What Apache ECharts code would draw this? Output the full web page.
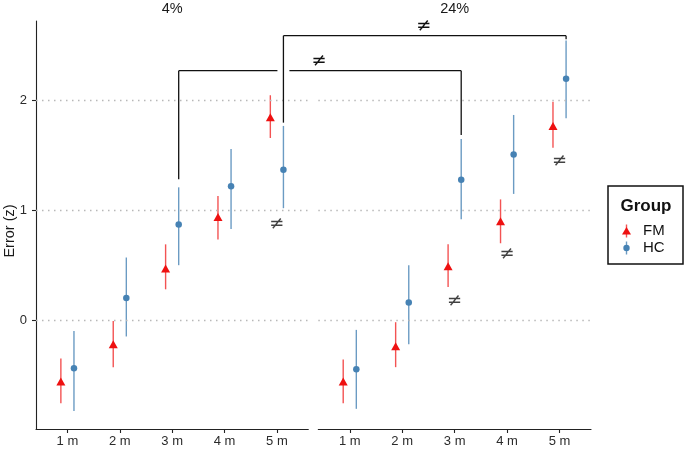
<!DOCTYPE html>
<html><head><meta charset="utf-8">
<script src="https://cdn.jsdelivr.net/npm/echarts@6/dist/echarts.min.js"></script>
<style>html,body{margin:0;padding:0;background:#fff}#c{width:685px;height:449px}</style>
</head><body><div id="c"></div>
<script>
// ---------- data ----------
const categories = [1, 2, 3, 4, 5];
const tickLabels = ['1 m', '2 m', '3 m', '4 m', '5 m'];
const yTicks = [0, 1, 2];
const panels = ['4%', '24%'];
const groups = ['FM', 'HC'];

const fm4    = [-0.56, -0.22, 0.47, 0.94, 1.85];
const fm4Lo  = [-0.76, -0.43, 0.28, 0.735, 1.66];
const fm4Hi  = [-0.35, -0.01, 0.69, 1.13, 2.05];
const hc4    = [-0.44, 0.20, 0.87, 1.22, 1.37];
const hc4Lo  = [-0.83, -0.15, 0.50, 0.83, 1.02];
const hc4Hi  = [-0.10, 0.57, 1.21, 1.56, 1.77];

const fm24   = [-0.56, -0.24, 0.49, 0.90, 1.77];
const fm24Lo = [-0.76, -0.43, 0.30, 0.70, 1.57];
const fm24Hi = [-0.36, -0.02, 0.69, 1.10, 1.99];
const hc24   = [-0.45, 0.16, 1.28, 1.51, 2.20];
const hc24Lo = [-0.81, -0.22, 0.92, 1.15, 1.84];
const hc24Hi = [-0.09, 0.50, 1.65, 1.87, 2.55];

// significance marks "≠" placed under points: [panel, category, y]
const neqPanel = [0, 1, 1, 1];
const neqCat   = [5, 3, 4, 5];
const neqY     = [0.875, 0.167, 0.60, 1.45];

// brackets between panels: category, top y, left-bottom y, right-bottom y
const brCat    = [3, 5];
const brTop    = [2.274, 2.593];
const brLeftLo = [1.283, 1.80];
const brRightLo= [1.687, 2.56];

// ---------- styling ----------
const FM_COL = '#EE1111', FM_LINE = 'rgba(238,17,17,0.72)';
const HC_COL = '#4682B4', HC_LINE = 'rgba(70,130,180,0.8)';
const FONT = '"Liberation Sans", Arial, sans-serif';
const NEQ_FONT = '18px "DejaVu Sans", sans-serif';
const DODGE = 0.125;
const Y_MIN = -0.994, Y_MAX = 2.727;

const chart = echarts.init(document.getElementById('c'), null, {renderer: 'canvas'});

const grids = [
  {left: 36, top: 21, width: 272.3, height: 408},
  {left: 318.3, top: 21, width: 272.7, height: 408}
];

function xAxisCfg(i) {
  return {
    type: 'value', gridIndex: i, min: 0.4, max: 5.6,
    axisLine: {show: true, onZero: false, lineStyle: {color: '#222', width: 1.1}},
    axisTick: {show: true, customValues: categories, length: 4, lineStyle: {color: '#222', width: 1.1}},
    axisLabel: {show: true, customValues: categories, margin: 6,
      formatter: v => tickLabels[categories.indexOf(Math.round(v))] || '',
      color: '#2b2b2b', fontSize: 13, fontFamily: FONT},
    splitLine: {show: false}
  };
}
function yAxisCfg(i) {
  return {
    type: 'value', gridIndex: i, min: Y_MIN, max: Y_MAX,
    axisLine: {show: i === 0, onZero: false, lineStyle: {color: '#222', width: 1.1}},
    axisTick: {show: i === 0, customValues: yTicks, length: 4, lineStyle: {color: '#222', width: 1.1}},
    axisLabel: {show: i === 0, customValues: yTicks, margin: 9, color: '#2b2b2b', fontSize: 13, fontFamily: FONT},
    splitLine: {show: false}
  };
}

function errSeries(i, lo, hi, off, color) {
  return {
    type: 'custom', xAxisIndex: i, yAxisIndex: i, silent: true, z: 2,
    data: categories.map((c, k) => [c + off, lo[k], hi[k]]),
    renderItem: (params, api) => {
      const a = api.coord([api.value(0), api.value(1)]);
      const b = api.coord([api.value(0), api.value(2)]);
      return {type: 'line', shape: {x1: a[0], y1: a[1], x2: b[0], y2: b[1]},
        style: {stroke: color, lineWidth: 1.4}};
    }
  };
}
function ptSeries(i, vals, off, symbol, size, color) {
  return {
    type: 'scatter', xAxisIndex: i, yAxisIndex: i, symbol: symbol, symbolSize: size, z: 3,
    itemStyle: {color: color, opacity: 1},
    data: categories.map((c, k) => [c + off, vals[k]])
  };
}
function gridLines(i) {
  return {
    type: 'line', xAxisIndex: i, yAxisIndex: i, data: [], silent: true, z: 1,
    markLine: {symbol: 'none', silent: true, label: {show: false},
      lineStyle: {color: '#b8b8b8', type: [1.5, 4.5], width: 1.4},
      data: yTicks.map(v => ({yAxis: v}))}
  };
}
function neqSeries(i) {
  const d = [];
  neqPanel.forEach((p, k) => { if (p === i) d.push([neqCat[k], neqY[k]]); });
  return {
    type: 'scatter', xAxisIndex: i, yAxisIndex: i, symbolSize: 0, z: 4, data: d,
    label: {show: true, position: 'inside', formatter: '≠', color: '#111', fontSize: 18, fontFamily: '"DejaVu Sans", sans-serif'}
  };
}

const series = [
  gridLines(0), gridLines(1),
  errSeries(0, fm4Lo, fm4Hi, -DODGE, FM_LINE),
  errSeries(0, hc4Lo, hc4Hi, DODGE, HC_LINE),
  errSeries(1, fm24Lo, fm24Hi, -DODGE, FM_LINE),
  errSeries(1, hc24Lo, hc24Hi, DODGE, HC_LINE),
  ptSeries(0, fm4, -DODGE, 'triangle', [9, 8], FM_COL),
  ptSeries(0, hc4, DODGE, 'circle', 6.5, HC_COL),
  ptSeries(1, fm24, -DODGE, 'triangle', [9, 8], FM_COL),
  ptSeries(1, hc24, DODGE, 'circle', 6.5, HC_COL),
  neqSeries(0), neqSeries(1)
];

chart.setOption({
  animation: false,
  backgroundColor: '#fff',
  grid: grids,
  xAxis: [xAxisCfg(0), xAxisCfg(1)],
  yAxis: [yAxisCfg(0), yAxisCfg(1)],
  series: series
});

// ---------- annotations computed from axes ----------
const g = [];
// panel titles
panels.forEach((t, i) => {
  const l = chart.convertToPixel({gridIndex: i}, [0.4, Y_MAX]);
  const r = chart.convertToPixel({gridIndex: i}, [5.6, Y_MAX]);
  g.push({type: 'text', x: (l[0] + r[0]) / 2, y: 9, style: {text: t, fill: '#1a1a1a',
    font: '14.5px ' + FONT, textAlign: 'center', textVerticalAlign: 'middle'}});
});
// y axis title
{
  const a = chart.convertToPixel({gridIndex: 0}, [0.4, Y_MIN]);
  const b = chart.convertToPixel({gridIndex: 0}, [0.4, Y_MAX]);
  g.push({type: 'text', x: 10, y: (a[1] + b[1]) / 2 + 6, rotation: Math.PI / 2,
    style: {text: 'Error (z)', fill: '#1a1a1a', font: '14.5px ' + FONT, textAlign: 'center', textVerticalAlign: 'middle'}});
}
// brackets
const LS = {stroke: '#111', lineWidth: 1.3};
const outerL = chart.convertToPixel({gridIndex: 0}, [brCat[1] + DODGE, brTop[1]]);
brCat.forEach((c, k) => {
  const L0 = chart.convertToPixel({gridIndex: 0}, [c + DODGE, brTop[k]]);
  const L1 = chart.convertToPixel({gridIndex: 0}, [c + DODGE, brLeftLo[k]]);
  const R0 = chart.convertToPixel({gridIndex: 1}, [c + DODGE, brTop[k]]);
  const R1 = chart.convertToPixel({gridIndex: 1}, [c + DODGE, brRightLo[k]]);
  g.push({type: 'polyline', z: 10, shape: {points: [[L1[0], L1[1]], [L0[0], L0[1]]]}, style: LS});
  g.push({type: 'polyline', z: 10, shape: {points: [[R0[0], R0[1]], [R1[0], R1[1]]]}, style: LS});
  if (k === 0) {
    // gap where outer bracket's vertical crosses
    g.push({type: 'line', z: 10, shape: {x1: L0[0], y1: L0[1], x2: outerL[0] - 6, y2: L0[1]}, style: LS});
    g.push({type: 'line', z: 10, shape: {x1: outerL[0] + 6, y1: L0[1], x2: R0[0], y2: R0[1]}, style: LS});
  } else {
    g.push({type: 'line', z: 10, shape: {x1: L0[0], y1: L0[1], x2: R0[0], y2: R0[1]}, style: LS});
  }
  g.push({type: 'text', z: 10, x: (L0[0] + R0[0]) / 2 - 1, y: L0[1] - 9,
    style: {text: '≠', fill: '#111', font: NEQ_FONT, textAlign: 'center', textVerticalAlign: 'middle'}});
});
// legend
const LX = 608, LY = 186;
g.push({type: 'rect', z: 10, shape: {x: LX, y: LY, width: 75, height: 78},
  style: {fill: '#fff', stroke: '#111', lineWidth: 1.5}});
g.push({type: 'text', z: 11, x: LX + 38, y: LY + 20, style: {text: 'Group', fill: '#111',
  font: 'bold 17px ' + FONT, textAlign: 'center', textVerticalAlign: 'middle'}});
const legCols = [[FM_COL, FM_LINE], [HC_COL, HC_LINE]];
groups.forEach((name, k) => {
  const cy = LY + 45 + k * 17;
  const sx = LX + 18.5;
  g.push({type: 'line', z: 11, shape: {x1: sx, y1: cy - 6.5, x2: sx, y2: cy + 6.5}, style: {stroke: legCols[k][1], lineWidth: 1.4}});
  if (k === 0) {
    g.push({type: 'polygon', z: 12, shape: {points: [[sx, cy - 4], [sx + 4.5, cy + 3.5], [sx - 4.5, cy + 3.5]]}, style: {fill: legCols[k][0]}});
  } else {
    g.push({type: 'circle', z: 12, shape: {cx: sx, cy: cy, r: 3.2}, style: {fill: legCols[k][0]}});
  }
  g.push({type: 'text', z: 12, x: LX + 35, y: cy, style: {text: name, fill: '#111',
    font: '15px ' + FONT, textAlign: 'left', textVerticalAlign: 'middle'}});
});
chart.setOption({graphic: g});
</script></body></html>
